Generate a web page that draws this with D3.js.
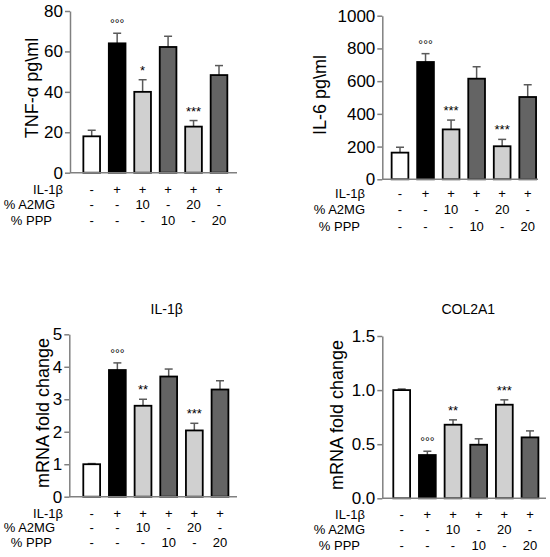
<!DOCTYPE html>
<html>
<head>
<meta charset="utf-8">
<script src="https://cdn.jsdelivr.net/npm/d3@7"></script>
<style>
	body{margin:0;background:#fff;}
	text{font-family:"Liberation Sans",Arial,sans-serif;fill:#000;}
</style>
</head>
<body>
<svg width="550" height="557"></svg>
<script>
	//data
	let groups = ["ctrl","il1b","a2mg10","ppp10","a2mg20","ppp20"];
	let groupFills = ["#ffffff","#000000","#d0d0d0","#646464","#d0d0d0","#646464"];
	let rowNames = ["IL-1β","% A2MG","% PPP"];
	let il1bRow = ["-","+","+","+","+","+"];
	let a2mgRow = ["-","-","10","-","20","-"];
	let pppRow = ["-","-","-","10","-","20"];

	let tnfMean = [18,64,40,62.2,22.8,48.3];
	let tnfErr = [3,5,6,5.3,3,4.7];
	let tnfSig = ["","°°°","*","","***",""];
	let tnfTicks = [0,20,40,60,80];

	let il6Mean = [163,717,305,615,202,503];
	let il6Err = [33,51,57,73,42,75];
	let il6Sig = ["","°°°","***","","***",""];
	let il6Ticks = [0,200,400,600,800,1000];

	let il1bMean = [1.0,3.9,2.8,3.7,2.04,3.3];
	let il1bErr = [0.02,0.22,0.2,0.23,0.22,0.27];
	let il1bSig = ["","°°°","**","","***",""];
	let il1bTicks = [0,1,2,3,4,5];

	let colMean = [1.0,0.40,0.68,0.495,0.865,0.563];
	let colErr = [0.01,0.035,0.045,0.055,0.045,0.06];
	let colSig = ["","°°°","**","","***",""];
	let colTicks = [0,0.5,1.0,1.5];

	//layout per panel
	let panels = [
		{mean:tnfMean, err:tnfErr, sig:tnfSig, ticks:tnfTicks, fmt:d3.format("d"), ylabel:"TNF-α pg\\ml", title:"",
		 ax:70, xEnd:237, c0:91.7, c1:219, y0:172.7, y1:11, lx:32, ly:88, rowEnd:[63,55,52], rowY:[189,204,220]},
		{mean:il6Mean, err:il6Err, sig:il6Sig, ticks:il6Ticks, fmt:d3.format("d"), ylabel:"IL-6 pg\\ml", title:"",
		 ax:382.3, xEnd:538, c0:400, c1:527.7, y0:179.3, y1:15.7, lx:320, ly:95, rowEnd:[365,365,360], rowY:[193.5,209.5,226.5]},
		{mean:il1bMean, err:il1bErr, sig:il1bSig, ticks:il1bTicks, fmt:d3.format("d"), ylabel:"mRNA fold change", title:"IL-1β",
		 ax:69.3, xEnd:237, c0:91.7, c1:220, y0:496.7, y1:334.3, lx:43, ly:413, tx:166.7, ty:308.5, rowEnd:[63,55,52], rowY:[513,527.5,542.5]},
		{mean:colMean, err:colErr, sig:colSig, ticks:colTicks, fmt:d3.format(".1f"), ylabel:"mRNA fold change", title:"COL2A1",
		 ax:382.3, xEnd:546, c0:401.7, c1:530, y0:498.3, y1:336, lx:337, ly:415, tx:468.3, ty:308.5, rowEnd:[365,365,360], rowY:[514,529.5,545]}
	];
	let rows = [il1bRow, a2mgRow, pppRow];

	let svg = d3.select("svg");
	let axisColor = "#808080";

	panels.forEach(p => {
		let g = svg.append("g");
		let step = (p.c1 - p.c0)/(groups.length - 1);
		let x = d3.scaleBand()
			.domain(groups)
			.range([p.c0 - step/2, p.c1 + step/2])
			.paddingInner(0.345)
			.paddingOuter(0.1725);
		let y = d3.scaleLinear()
			.domain([0, d3.max(p.ticks)])
			.range([p.y0, p.y1]);

		//y axis
		let yAxis = g.append("g")
			.attr("transform", "translate(" + p.ax + ",0)")
			.call(d3.axisLeft(y).tickValues(p.ticks).tickFormat(p.fmt).tickSize(5).tickSizeOuter(0).tickPadding(2));
		yAxis.select(".domain").attr("stroke", axisColor).attr("stroke-width", 1.5);
		yAxis.selectAll(".tick line").attr("stroke", axisColor).attr("stroke-width", 1.5);
		yAxis.selectAll(".tick text")
			.attr("font-size", 17)
			.attr("font-family", "Liberation Sans, Arial, sans-serif")
			.attr("fill", "#000");

		let data = groups.map((k, i) => ({key:k, mean:p.mean[i], err:p.err[i], sig:p.sig[i], fill:groupFills[i]}));

		//error bars
		g.selectAll(".errline").data(data).enter()
			.append("line")
			.attr("x1", d => x(d.key) + x.bandwidth()/2)
			.attr("x2", d => x(d.key) + x.bandwidth()/2)
			.attr("y1", d => y(d.mean))
			.attr("y2", d => y(d.mean + d.err))
			.attr("stroke", "#5a5a5a").attr("stroke-width", 1.5);
		g.selectAll(".errcap").data(data).enter()
			.append("line")
			.attr("x1", d => x(d.key) + x.bandwidth()/2 - 4)
			.attr("x2", d => x(d.key) + x.bandwidth()/2 + 4)
			.attr("y1", d => y(d.mean + d.err))
			.attr("y2", d => y(d.mean + d.err))
			.attr("stroke", "#5a5a5a").attr("stroke-width", 1.5);

		//bars
		g.selectAll(".bar").data(data).enter()
			.append("rect")
			.attr("x", d => x(d.key))
			.attr("width", x.bandwidth())
			.attr("y", d => y(d.mean))
			.attr("height", d => y(0) - y(d.mean))
			.attr("fill", d => d.fill)
			.attr("stroke", "#000")
			.attr("stroke-width", 1.8);

		//x axis line
		g.append("line")
			.attr("x1", p.ax).attr("x2", p.xEnd)
			.attr("y1", y(0)).attr("y2", y(0))
			.attr("stroke", axisColor).attr("stroke-width", 1.5);

		//significance marks
		g.selectAll(".sig").data(data.filter(d => d.sig)).enter()
			.append("text")
			.attr("x", d => x(d.key) + x.bandwidth()/2)
			.attr("y", d => y(d.mean + d.err) - 5)
			.attr("text-anchor", "middle")
			.attr("font-size", d => d.sig[0] == "°" ? 12 : 13)
			.attr("fill", "#333")
			.text(d => d.sig);

		//y label
		g.append("text")
			.attr("transform", "translate(" + p.lx + "," + p.ly + ") rotate(-90)")
			.attr("text-anchor", "middle")
			.attr("dominant-baseline", "central")
			.attr("font-size", 18)
			.text(p.ylabel);

		//title
		if(p.title){
			g.append("text")
				.attr("x", p.tx).attr("y", p.ty)
				.attr("text-anchor", "middle")
				.attr("dominant-baseline", "central")
				.attr("font-size", 14)
				.text(p.title);
		}

		//condition table
		rows.forEach((r, ri) => {
			g.append("text")
				.attr("x", p.rowEnd[ri]).attr("y", p.rowY[ri])
				.attr("text-anchor", "end")
				.attr("dominant-baseline", "central")
				.attr("font-size", 13)
				.text(rowNames[ri]);
			g.selectAll(".cell" + ri).data(r).enter()
				.append("text")
				.attr("x", (d, i) => x(groups[i]) + x.bandwidth()/2)
				.attr("y", p.rowY[ri])
				.attr("text-anchor", "middle")
				.attr("dominant-baseline", "central")
				.attr("font-size", 13)
				.text(d => d);
		});
	});
</script>
</body>
</html>
